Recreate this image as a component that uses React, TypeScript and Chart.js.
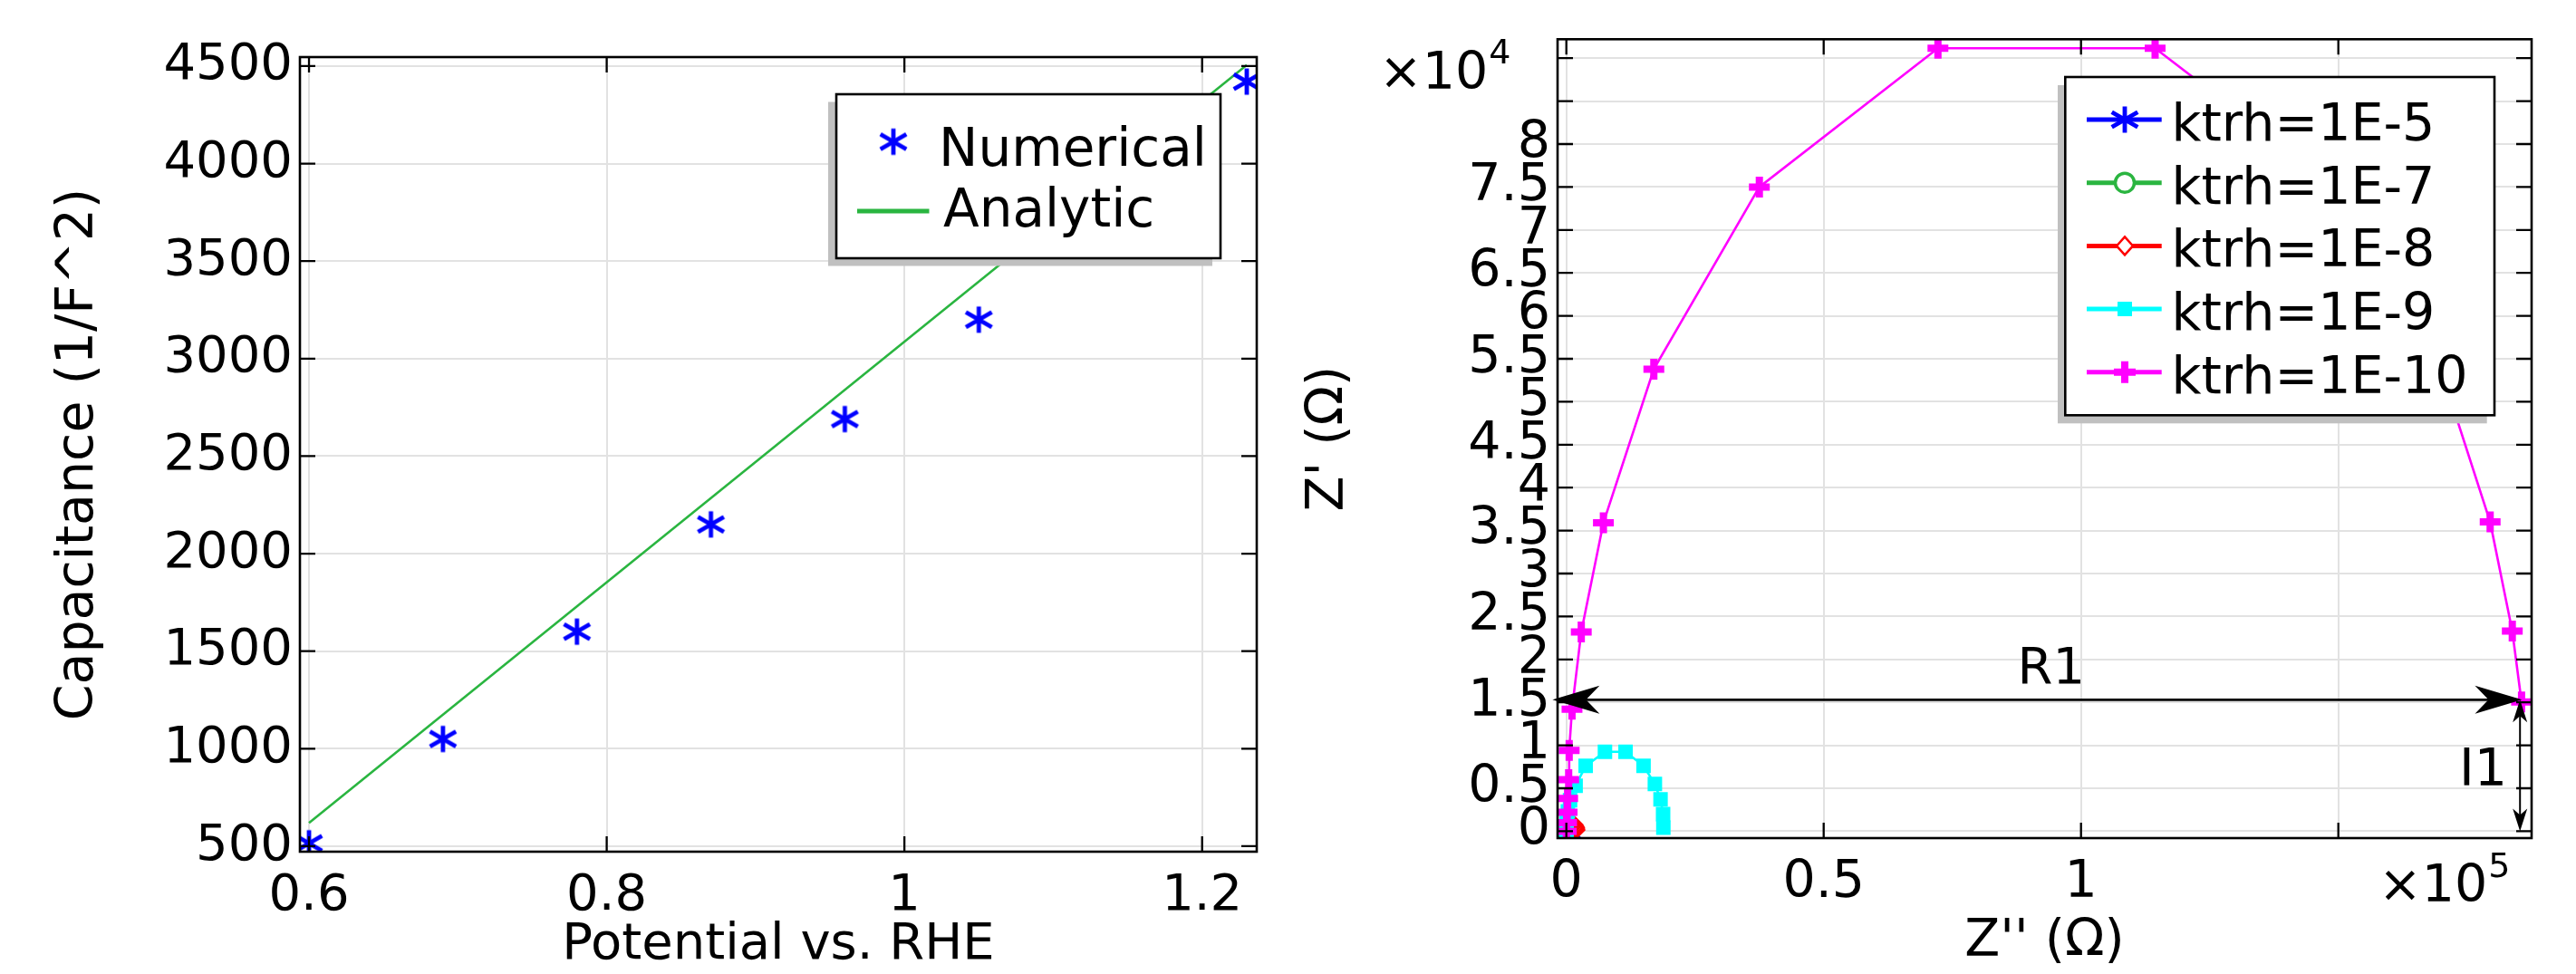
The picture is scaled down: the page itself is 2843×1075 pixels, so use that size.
import React, { useEffect, useRef } from 'react';
import { Chart, registerables } from 'chart.js';

Chart.register(...registerables);

const FONT = "'DejaVu Sans', 'Noto Sans', sans-serif";

// ---------------- Left panel (Mott-Schottky) ----------------
const potential = [0.6, 0.69, 0.78, 0.87, 0.96, 1.05, 1.14, 1.23];
const capacitanceNumerical = [515, 1050, 1600, 2150, 2690, 3200, 3800, 4420];
const potentialAnalytic = [0.6, 1.23];
const capacitanceAnalytic = [620, 4505];
const leftXTicks = [0.6, 0.8, 1.0, 1.2];
const leftXTickLabels = ['0.6', '0.8', '1', '1.2'];
const leftYTicks = [500, 1000, 1500, 2000, 2500, 3000, 3500, 4000, 4500];
const leftYTickLabels = ['500', '1000', '1500', '2000', '2500', '3000', '3500', '4000', '4500'];

// ---------------- Right panel (Nyquist) ----------------
const seriesLabels = ['ktrh=1E-5', 'ktrh=1E-7', 'ktrh=1E-8', 'ktrh=1E-9', 'ktrh=1E-10'];
// x = Z'' (ohm), y = Z' (ohm)
const k5X = [0, 0.2, 1.1, 1.9];
const k5Y = [0, 0.5, 0.9, 0.15];
const k7X = [0, 3, 7, 18, 75, 150, 180, 188];
const k7Y = [0, 23, 54, 92, 92, 54, 23, 10];
const k8X = [0, 10, 30, 70, 180, 370, 750, 1150, 1500, 1700, 1830, 1880];
const k8Y = [0, 100, 230, 360, 540, 750, 920, 920, 750, 540, 360, 150];
const k9X = [0, 0, 10, 20, 40, 50, 110, 290, 720, 1800, 3750, 7500, 11500, 15000, 17200, 18300, 18800, 18850];
const k9Y = [0, 100, 220, 380, 600, 940, 1420, 2320, 3590, 5300, 7600, 9250, 9250, 7600, 5500, 3700, 2000, 400];
const k10X = [0, 50, 150, 250, 450, 550, 1100, 2900, 7200, 17000, 37500, 72200, 114400, 149600, 169900, 179500, 183800, 185600];
const k10Y = [0, 1000, 2200, 3800, 6000, 9400, 14200, 23200, 35900, 53800, 75000, 91150, 91150, 75000, 53800, 36000, 23300, 15050];
const rightXTicks = [0, 50000, 100000, 150000];
const rightXTickLabels = ['0', '0.5', '1', ''];
const rightYTicks = [0, 5000, 10000, 15000, 20000, 25000, 30000, 35000, 40000, 45000, 50000, 55000, 60000, 65000, 70000, 75000, 80000, 85000, 90000];
const rightYTickLabels = ['0', '0.5', '1', '1.5', '2', '2.5', '3', '3.5', '4', '4.5', '5', '5.5', '6', '6.5', '7', '7.5', '8', '', ''];

// annotation values (data units, ohm)
const r1Y = 15300;
const r1XFrom = -2700;
const r1XTo = 185700;
const r1LabelX = 94200;
const r1LabelY = 17240;
const i1X = 185300;
const i1YFrom = 15300;
const i1YTo = 0;
const i1LabelX = 182800;
const i1LabelY = 5350;

const BLUE = '#0000ff';
const GREEN = '#2ab540';
const RED = '#ff0000';
const CYAN = '#00ffff';
const MAGENTA = '#ff00ff';
const GRID = '#e2e2e2';

function makeStar(color: string): HTMLCanvasElement {
  const c = document.createElement('canvas');
  c.width = 38;
  c.height = 38;
  const ctx = c.getContext('2d')!;
  ctx.strokeStyle = color;
  ctx.lineWidth = 4.8;
  const m = 19;
  const rv = 14.5;
  const rd = 16.5;
  const dx = rd * Math.cos(Math.PI / 6);
  const dy = rd * Math.sin(Math.PI / 6);
  ctx.beginPath();
  ctx.moveTo(m, m - rv);
  ctx.lineTo(m, m + rv);
  ctx.moveTo(m - dx, m - dy);
  ctx.lineTo(m + dx, m + dy);
  ctx.moveTo(m - dx, m + dy);
  ctx.lineTo(m + dx, m - dy);
  ctx.stroke();
  return c;
}

function pts(xs: number[], ys: number[]) {
  return xs.map((x, i) => ({ x, y: ys[i] }));
}

function drawFrameAndTicks(chart: any) {
  const { ctx, chartArea: a, scales } = chart;
  const xs = scales.x;
  const ys = scales.y;
  const tl = 17;
  ctx.save();
  ctx.strokeStyle = '#000';
  ctx.lineWidth = 2.3;
  ctx.beginPath();
  for (const t of xs.ticks) {
    const p = xs.getPixelForValue(t.value);
    ctx.moveTo(p, a.bottom);
    ctx.lineTo(p, a.bottom - tl);
    ctx.moveTo(p, a.top);
    ctx.lineTo(p, a.top + tl);
  }
  for (const t of ys.ticks) {
    const p = ys.getPixelForValue(t.value);
    ctx.moveTo(a.left, p);
    ctx.lineTo(a.left + tl, p);
    ctx.moveTo(a.right, p);
    ctx.lineTo(a.right - tl, p);
  }
  ctx.stroke();
  ctx.lineWidth = 2.6;
  ctx.strokeRect(a.left, a.top, a.right - a.left, a.bottom - a.top);
  ctx.restore();
}

function drawLegendBox(ctx: CanvasRenderingContext2D, x1: number, y1: number, x2: number, y2: number, sdx: number, sdy: number) {
  ctx.fillStyle = '#c0c0c0';
  ctx.fillRect(x1 + sdx, y1 + sdy, x2 - x1, y2 - y1);
  ctx.fillStyle = '#ffffff';
  ctx.fillRect(x1, y1, x2 - x1, y2 - y1);
  ctx.strokeStyle = '#000';
  ctx.lineWidth = 2.6;
  ctx.strokeRect(x1, y1, x2 - x1, y2 - y1);
}

function arrowHead(ctx: CanvasRenderingContext2D, tx: number, ty: number, dx: number, dy: number, len: number, hw: number, notch: number) {
  const px = -dy;
  const py = dx;
  const bx = tx - dx * len;
  const by = ty - dy * len;
  const nx = tx - dx * (len - notch);
  const ny = ty - dy * (len - notch);
  ctx.beginPath();
  ctx.moveTo(tx, ty);
  ctx.lineTo(bx + px * hw, by + py * hw);
  ctx.lineTo(nx, ny);
  ctx.lineTo(bx - px * hw, by - py * hw);
  ctx.closePath();
  ctx.fill();
}

export default function App() {
  const leftRef = useRef<HTMLCanvasElement>(null);
  const rightRef = useRef<HTMLCanvasElement>(null);

  useEffect(() => {
    const starBlue = makeStar(BLUE);

    const leftDecor = {
      id: 'leftDecor',
      afterDatasetsDraw(chart: any) {
        drawFrameAndTicks(chart);
        const ctx: CanvasRenderingContext2D = chart.ctx;
        ctx.save();
        drawLegendBox(ctx, 923, 104, 1347, 285, -9, 8.5);
        ctx.drawImage(starBlue, 986 - 19, 156.4 - 19);
        ctx.strokeStyle = GREEN;
        ctx.lineWidth = 5;
        ctx.beginPath();
        ctx.moveTo(946, 233);
        ctx.lineTo(1025.5, 233);
        ctx.stroke();
        ctx.fillStyle = '#000';
        ctx.font = `58px ${FONT}`;
        ctx.textAlign = 'left';
        ctx.textBaseline = 'alphabetic';
        ctx.fillText(chart.data.datasets[0].label, 1036, 183);
        ctx.fillText(chart.data.datasets[1].label, 1041, 250);
        ctx.restore();
      },
    };

    const rightDecor = {
      id: 'rightDecor',
      afterDatasetsDraw(chart: any) {
        drawFrameAndTicks(chart);
        const ctx: CanvasRenderingContext2D = chart.ctx;
        const xs = chart.scales.x;
        const ys = chart.scales.y;
        ctx.save();
        ctx.fillStyle = '#000';
        ctx.strokeStyle = '#000';
        // R1 double arrow
        const ry = ys.getPixelForValue(r1Y);
        const rx1 = xs.getPixelForValue(r1XFrom);
        const rx2 = xs.getPixelForValue(r1XTo);
        ctx.lineWidth = 2.6;
        ctx.beginPath();
        ctx.moveTo(rx1 + 30, ry);
        ctx.lineTo(rx2 - 30, ry);
        ctx.stroke();
        arrowHead(ctx, rx1, ry, -1, 0, 52, 15.5, 15);
        arrowHead(ctx, rx2, ry, 1, 0, 52, 15.5, 15);
        // I1 double arrow
        const ix = xs.getPixelForValue(i1X);
        const iy1 = ys.getPixelForValue(i1YFrom);
        const iy2 = ys.getPixelForValue(i1YTo);
        ctx.lineWidth = 2;
        ctx.beginPath();
        ctx.moveTo(ix, iy1 + 12);
        ctx.lineTo(ix, iy2 - 12);
        ctx.stroke();
        arrowHead(ctx, ix, iy1, 0, -1, 25, 8, 7);
        arrowHead(ctx, ix, iy2, 0, 1, 25, 8, 7);
        // labels
        ctx.font = `56px ${FONT}`;
        ctx.textBaseline = 'alphabetic';
        ctx.textAlign = 'center';
        ctx.fillText('R1', xs.getPixelForValue(r1LabelX), ys.getPixelForValue(r1LabelY));
        ctx.font = `57px ${FONT}`;
        ctx.textAlign = 'right';
        ctx.fillText('I1', xs.getPixelForValue(i1LabelX), ys.getPixelForValue(i1LabelY));
        // axis multipliers
        ctx.textAlign = 'left';
        ctx.font = `57px ${FONT}`;
        const w10 = ctx.measureText('\u00d710').width;
        ctx.fillText('\u00d710', 102, 98);
        ctx.fillText('\u00d710', 1205, 995);
        ctx.font = `38px ${FONT}`;
        ctx.fillText('4', 102 + w10 + 1, 70);
        ctx.fillText('5', 1205 + w10 + 1, 968);

        // legend
        drawLegendBox(ctx, 859.3, 85, 1333, 458.3, -8.3, 9);
        const rows = [132, 201.7, 271.4, 341, 410.7];
        const colors = [BLUE, GREEN, RED, CYAN, MAGENTA];
        for (let i = 0; i < 5; i++) {
          const y = rows[i];
          ctx.strokeStyle = colors[i];
          ctx.lineWidth = 5;
          ctx.beginPath();
          ctx.moveTo(883, y);
          ctx.lineTo(965.7, y);
          ctx.stroke();
          const mx = 925;
          if (i === 0) {
            ctx.drawImage(starBlue, mx - 19, y - 19);
          } else if (i === 1) {
            ctx.fillStyle = '#fff';
            ctx.lineWidth = 3.5;
            ctx.beginPath();
            ctx.arc(mx, y, 10.5, 0, Math.PI * 2);
            ctx.fill();
            ctx.stroke();
          } else if (i === 2) {
            ctx.fillStyle = '#fff';
            ctx.lineWidth = 2.5;
            ctx.beginPath();
            ctx.moveTo(mx, y - 10);
            ctx.lineTo(mx + 9, y);
            ctx.lineTo(mx, y + 10);
            ctx.lineTo(mx - 9, y);
            ctx.closePath();
            ctx.fill();
            ctx.stroke();
          } else if (i === 3) {
            ctx.fillStyle = CYAN;
            ctx.fillRect(mx - 8, y - 8, 16, 16);
          } else {
            ctx.lineWidth = 8;
            ctx.beginPath();
            ctx.moveTo(mx - 12, y);
            ctx.lineTo(mx + 12, y);
            ctx.moveTo(mx, y - 12);
            ctx.lineTo(mx, y + 12);
            ctx.stroke();
          }
          ctx.fillStyle = '#000';
          ctx.font = `57px ${FONT}`;
          ctx.textAlign = 'left';
          ctx.fillText(chart.data.datasets[i].label, 976.5, y + 23);
        }
        ctx.restore();
      },
    };

    const tickFont = (size: number) => ({ family: FONT, size, lineHeight: 1.2 });

    const left = new Chart(leftRef.current!, {
      type: 'scatter',
      data: {
        datasets: [
          {
            label: 'Numerical',
            data: pts(potential, capacitanceNumerical),
            showLine: false,
            pointStyle: starBlue as any,
            pointRadius: 16,
            clip: 0 as any,
            order: 0,
          },
          {
            label: 'Analytic',
            data: pts(potentialAnalytic, capacitanceAnalytic),
            showLine: true,
            borderColor: GREEN,
            borderWidth: 2.6,
            pointRadius: 0,
            clip: 0 as any,
            order: 1,
          },
        ],
      },
      options: {
        animation: false,
        responsive: false,
        devicePixelRatio: 1,
        events: [],
        layout: { padding: { left: 0, top: 63, right: 33, bottom: 0 } },
        plugins: { legend: { display: false }, tooltip: { enabled: false } },
        scales: {
          x: {
            type: 'linear',
            min: 0.5939,
            max: 1.2367,
            afterBuildTicks: (s: any) => {
              s.ticks = leftXTicks.map((v) => ({ value: v }));
            },
            afterFit: (s: any) => {
              s.height = 135;
            },
            grid: { color: GRID, lineWidth: 2, drawTicks: false },
            border: { display: false },
            ticks: {
              autoSkip: false,
              maxRotation: 0,
              minRotation: 0,
              padding: 16,
              color: '#000',
              font: tickFont(56),
              callback: (_v: any, i: number) => leftXTickLabels[i],
            },
            title: {
              display: true,
              text: 'Potential vs. RHE',
              color: '#000',
              font: { family: FONT, size: 56, lineHeight: 1 },
              padding: { top: 0, bottom: 3.7 },
            },
          },
          y: {
            type: 'linear',
            min: 472,
            max: 4546,
            afterBuildTicks: (s: any) => {
              s.ticks = leftYTicks.map((v) => ({ value: v }));
            },
            afterFit: (s: any) => {
              s.width = 331;
            },
            grid: { color: GRID, lineWidth: 2, drawTicks: false },
            border: { display: false },
            ticks: {
              autoSkip: false,
              padding: 8,
              color: '#000',
              font: tickFont(56),
              callback: (_v: any, i: number) => leftYTickLabels[i],
            },
            title: {
              display: true,
              text: 'Capacitance (1/F^2)',
              color: '#000',
              font: { family: FONT, size: 57, lineHeight: 1 },
              padding: { top: 58.5, bottom: 0 },
            },
          },
        },
      },
      plugins: [leftDecor],
    });

    const mk = (i: number, xs: number[], ys: number[], color: string, extra: any) => ({
      label: seriesLabels[i],
      data: pts(xs, ys),
      showLine: true,
      borderColor: color,
      borderWidth: 2.6,
      pointBorderColor: color,
      clip: 0 as any,
      order: 4 - i,
      ...extra,
    });

    const right = new Chart(rightRef.current!, {
      type: 'scatter',
      data: {
        datasets: [
          mk(0, k5X, k5Y, BLUE, { pointStyle: starBlue, pointRadius: 16 }),
          mk(1, k7X, k7Y, GREEN, { pointStyle: 'circle', pointRadius: 10.5, pointBorderWidth: 3.5, pointBackgroundColor: 'rgba(0,0,0,0)' }),
          mk(2, k8X, k8Y, RED, { pointStyle: 'rectRot', pointRadius: 9, pointBorderWidth: 2.5, pointBackgroundColor: 'rgba(0,0,0,0)' }),
          mk(3, k9X, k9Y, CYAN, { pointStyle: 'rect', pointRadius: 11.3, pointBorderWidth: 0, pointBackgroundColor: CYAN }),
          mk(4, k10X, k10Y, MAGENTA, { pointStyle: 'cross', pointRadius: 11.5, pointBorderWidth: 8, pointBackgroundColor: MAGENTA }),
        ],
      },
      options: {
        animation: false,
        responsive: false,
        devicePixelRatio: 1,
        events: [],
        layout: { padding: { left: 0, top: 43.3, right: 49, bottom: 0 } },
        plugins: { legend: { display: false }, tooltip: { enabled: false } },
        scales: {
          x: {
            type: 'linear',
            min: -1708,
            max: 187553,
            afterBuildTicks: (s: any) => {
              s.ticks = rightXTicks.map((v) => ({ value: v }));
            },
            afterFit: (s: any) => {
              s.height = 150;
            },
            grid: { color: GRID, lineWidth: 2, drawTicks: false },
            border: { display: false },
            ticks: {
              autoSkip: false,
              maxRotation: 0,
              minRotation: 0,
              padding: 16,
              color: '#000',
              font: tickFont(57),
              callback: (_v: any, i: number) => rightXTickLabels[i],
            },
            title: {
              display: true,
              text: "Z'' (\u03a9)",
              color: '#000',
              font: { family: FONT, size: 57, lineHeight: 1 },
              padding: { top: 0, bottom: 6.2 },
            },
          },
          y: {
            type: 'linear',
            min: -802,
            max: 92205,
            afterBuildTicks: (s: any) => {
              s.ticks = rightYTicks.map((v) => ({ value: v }));
            },
            afterFit: (s: any) => {
              s.width = 299;
            },
            grid: { color: GRID, lineWidth: 2, drawTicks: false },
            border: { display: false },
            ticks: {
              autoSkip: false,
              padding: 8,
              color: '#000',
              font: tickFont(57),
              callback: (_v: any, i: number) => rightYTickLabels[i],
            },
            title: {
              display: true,
              text: "Z' (\u03a9)",
              color: '#000',
              font: { family: FONT, size: 57, lineHeight: 1 },
              padding: { top: 18.5, bottom: 0 },
            },
          },
        },
      },
      plugins: [rightDecor],
    });

    return () => {
      left.destroy();
      right.destroy();
    };
  }, []);

  return (
    <div style={{ position: 'absolute', left: 0, top: 0, width: 2843, height: 1075, background: '#fff', overflow: 'hidden' }}>
      <canvas ref={leftRef} width={1420} height={1075} style={{ position: 'absolute', left: 0, top: 0, width: 1420, height: 1075 }} />
      <canvas ref={rightRef} width={1423} height={1075} style={{ position: 'absolute', left: 1420, top: 0, width: 1423, height: 1075 }} />
    </div>
  );
}
